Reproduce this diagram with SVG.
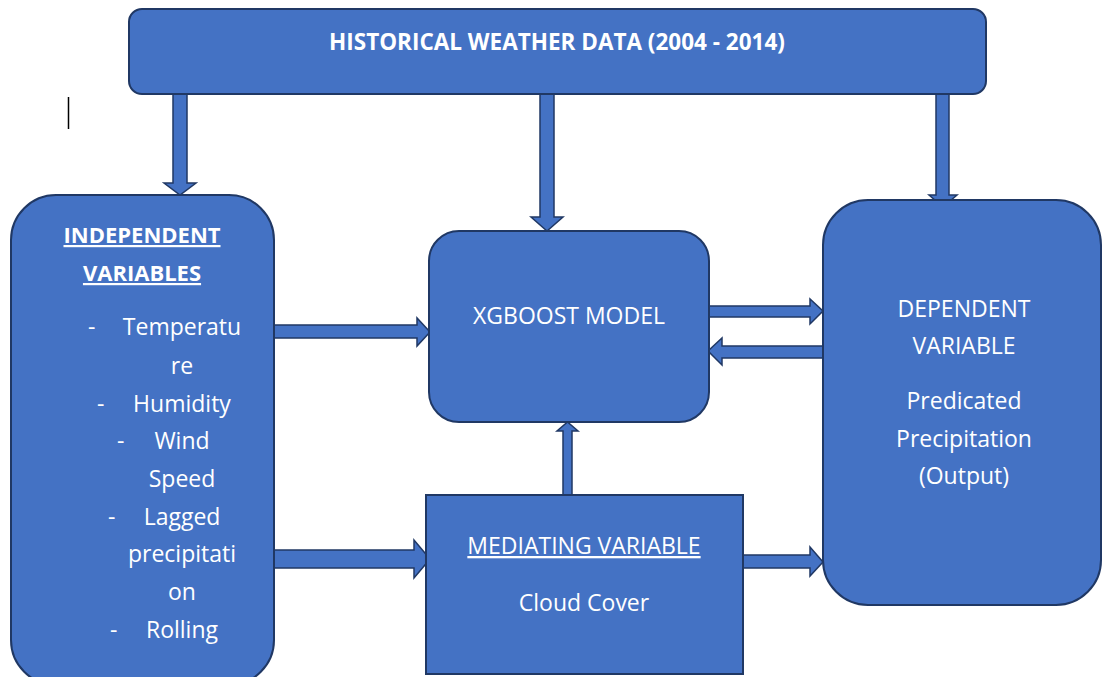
<svg xmlns="http://www.w3.org/2000/svg" width="1102" height="677" viewBox="0 0 1102 677">
  <style>
    .box { fill: #4472C4; stroke: #203864; stroke-width: 2; }
    .arrow { fill: #4472C4; stroke: #203864; stroke-width: 1.5; stroke-linejoin: miter; }
    text { font-family: "Open Sans", "Liberation Sans", sans-serif; fill: #FFFFFF; font-size: 23px; }
    .c { text-anchor: middle; }
    .b { font-weight: bold; font-size: 22px; }
    .u { text-decoration: underline; }
    .title { font-size: 22.5px; }
  </style>
  <rect width="1102" height="677" fill="#FFFFFF"/>

  <!-- text cursor mark -->
  <line x1="68.5" y1="97" x2="68.5" y2="129" stroke="#000000" stroke-width="1.5"/>

  <g id="connectors">
    <!-- data source down to independent variables -->
    <polygon class="arrow" points="173,94 187,94 187,183 196,183 180,195 164,183 173,183"/>
    <!-- data source down to model -->
    <polygon class="arrow" points="540,94 554,94 554,217 563,217 547,231 531,217 540,217"/>
    <!-- data source down to dependent variable -->
    <polygon class="arrow" points="936,92 949,92 949,195 957,195 943,207 929,195 936,195"/>
    <!-- independent variables to model -->
    <polygon class="arrow" points="274,325 417,325 417,318 430,332 417,346 417,338 274,338"/>
    <!-- independent variables to mediating variable -->
    <polygon class="arrow" points="274,550 414,550 414,540 430,559 414,578 414,568 274,568"/>
    <!-- model to dependent variable -->
    <polygon class="arrow" points="709,306 810,306 810,299 823,311 810,324 810,317 709,317"/>
    <!-- dependent variable back to model -->
    <polygon class="arrow" points="824,346 722,346 722,338 708,351 722,365 722,358 824,358"/>
    <!-- mediating variable up to model -->
    <polygon class="arrow" points="563,495 563,431 557,431 567.5,422 578,431 572,431 572,495"/>
    <!-- mediating variable to dependent variable -->
    <polygon class="arrow" points="743,555 810,555 810,547 823,562 810,576 810,568 743,568"/>
  </g>

  <g id="historical-data">
    <rect class="box" x="129" y="9" width="857" height="85" rx="13"/>
    <text class="c b title" x="557" y="50">HISTORICAL WEATHER DATA (2004 - 2014)</text>
  </g>

  <g id="independent-variables">
    <rect class="box" x="11" y="195" width="263" height="490" rx="45"/>
    <text class="c b u" x="142" y="243">INDEPENDENT</text>
    <text class="c b u" x="142" y="281">VARIABLES</text>
    <text x="88" y="335">-</text>
    <text class="c" x="182" y="335">Temperatu</text>
    <text class="c" x="182" y="374">re</text>
    <text x="97" y="412">-</text>
    <text class="c" x="182" y="412">Humidity</text>
    <text x="117" y="449">-</text>
    <text class="c" x="182" y="449">Wind</text>
    <text class="c" x="182" y="487">Speed</text>
    <text x="108" y="525">-</text>
    <text class="c" x="182" y="525">Lagged</text>
    <text class="c" x="182" y="562">precipitati</text>
    <text class="c" x="182" y="600">on</text>
    <text x="110" y="638">-</text>
    <text class="c" x="182" y="638">Rolling</text>
  </g>

  <g id="xgboost-model">
    <rect class="box" x="429" y="231" width="280" height="191" rx="30"/>
    <text class="c" x="569" y="324">XGBOOST MODEL</text>
  </g>

  <g id="mediating-variable">
    <rect class="box" x="426" y="495" width="317" height="179"/>
    <text class="c u" x="584" y="554">MEDIATING VARIABLE</text>
    <text class="c" x="584" y="611">Cloud Cover</text>
  </g>

  <g id="dependent-variable">
    <rect class="box" x="823" y="200" width="278" height="405" rx="45"/>
    <text class="c" x="964" y="317">DEPENDENT</text>
    <text class="c" x="964" y="354">VARIABLE</text>
    <text class="c" x="964" y="409">Predicated</text>
    <text class="c" x="964" y="447">Precipitation</text>
    <text class="c" x="964" y="484">(Output)</text>
  </g>
</svg>
